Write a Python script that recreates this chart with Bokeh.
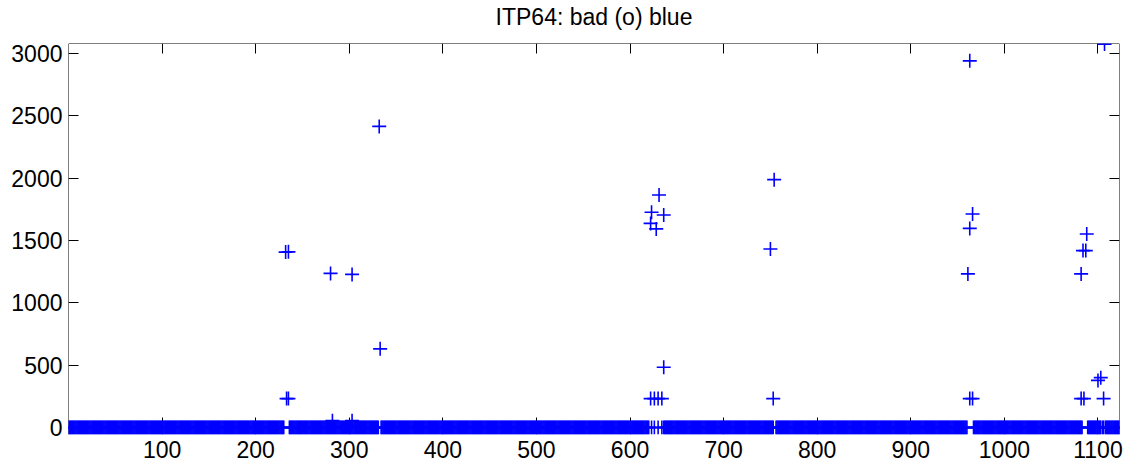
from bokeh.plotting import figure
from bokeh.models import Range1d, LinearAxis, FixedTicker
from bokeh.embed import file_html
from bokeh.resources import INLINE

# ---- data ----
title_text = "ITP64: bad (o) blue"
x_ticks = [100, 200, 300, 400, 500, 600, 700, 800, 900, 1000, 1100]
y_ticks = [0, 500, 1000, 1500, 2000, 2500, 3000]

# profiles that are flagged 0 (the dense band along y = 0)
zero_first = 0
zero_last = 1123
zero_missing = [231, 232, 233, 234, 235, 332, 333,
                621, 622, 624, 625, 627, 628, 629, 631, 632, 633, 635,
                754, 755, 961, 962, 963, 964, 965, 966,
                1084, 1085, 1086, 1087, 1088, 1104, 1107]

# isolated bad values
bad_x = [232, 235, 233, 235, 280, 303, 282, 303, 332, 333,
         631, 623, 636, 622, 628, 636, 622, 626, 630, 634,
         754, 750, 753,
         963, 966, 963, 961, 963, 966,
         1088, 1084, 1087, 1082, 1082, 1085, 1100, 1103, 1106, 1107]
bad_y = [1407, 1409, 232, 232, 1236, 1228, 55, 55, 2415, 631,
         1865, 1726, 1705, 1637, 1593, 483, 232, 232, 232, 232,
         1988, 1432, 232,
         2941, 1713, 1597, 1232, 232, 232,
         1552, 1419, 1419, 1232, 232, 232, 378, 400, 232, 3075]

x_min, x_max = 0, 1123
y_min, y_max = -56, 3080   # a little room below 0 so the markers on 0 are not cut

zero_x = [i for i in range(zero_first, zero_last + 1) if i not in zero_missing]
zero_y = [0] * len(zero_x)

FONT = "Liberation Sans"
BLUE = "#0000ff"

p = figure(width=1132, height=465, output_backend="svg", toolbar_location=None,
           x_range=Range1d(x_min, x_max), y_range=Range1d(y_min, y_max),
           min_border_left=68, min_border_right=13, min_border_top=43, min_border_bottom=31,
           background_fill_color="white", border_fill_color="white")

p.title.text = title_text
p.title.align = "center"
p.title.text_font = FONT
p.title.text_font_size = "23px"
p.title.text_font_style = "normal"
p.title.text_color = "black"
try:
    p.title.padding = dict(left=0, right=0, top=0, bottom=14)
    p.title.standoff = 0
except Exception:
    p.title.standoff = 14

p.xgrid.visible = False
p.ygrid.visible = False
p.outline_line_color = None


def tick_axis(ax, ticks, tick_in=10, line=True):
    """Axis drawn under the data: line and inward ticks only."""
    ax.ticker = FixedTicker(ticks=ticks, minor_ticks=[])
    ax.axis_line_color = "black" if line else None
    ax.axis_line_width = 1
    ax.major_tick_line_color = "black"
    ax.major_tick_in = tick_in
    ax.major_tick_out = 0
    ax.minor_tick_in = 0
    ax.minor_tick_out = 0
    ax.level = "underlay"
    ax.major_label_text_color = None
    ax.major_label_text_font_size = "1px"
    ax.major_label_standoff = 0


def label_axis(ax, ticks, standoff):
    """Axis that only carries the tick labels."""
    ax.ticker = FixedTicker(ticks=ticks, minor_ticks=[])
    ax.axis_line_color = None
    ax.major_tick_line_color = None
    ax.minor_tick_line_color = None
    ax.major_tick_in = 0
    ax.major_tick_out = 0
    ax.minor_tick_in = 0
    ax.minor_tick_out = 0
    ax.major_label_text_font = FONT
    ax.major_label_text_font_size = "23px"
    ax.major_label_text_color = "black"
    ax.major_label_standoff = standoff


tick_axis(p.xaxis[0], x_ticks, tick_in=17, line=False)
tick_axis(p.yaxis[0], y_ticks)

bottom_labels = LinearAxis()
label_axis(bottom_labels, x_ticks, 6)
p.add_layout(bottom_labels, "below")

left_labels = LinearAxis()
label_axis(left_labels, y_ticks, 6)
p.add_layout(left_labels, "left")

top_axis = LinearAxis()
tick_axis(top_axis, x_ticks)
p.add_layout(top_axis, "above")

right_axis = LinearAxis()
tick_axis(right_axis, y_ticks)
p.add_layout(right_axis, "right")

p.scatter(zero_x, zero_y, marker="cross", size=14, line_color=BLUE, line_width=1.6)
p.scatter(bad_x, bad_y, marker="cross", size=14, line_color=BLUE, line_width=1.6)

open("out.html", "w").write(file_html(p, INLINE))
